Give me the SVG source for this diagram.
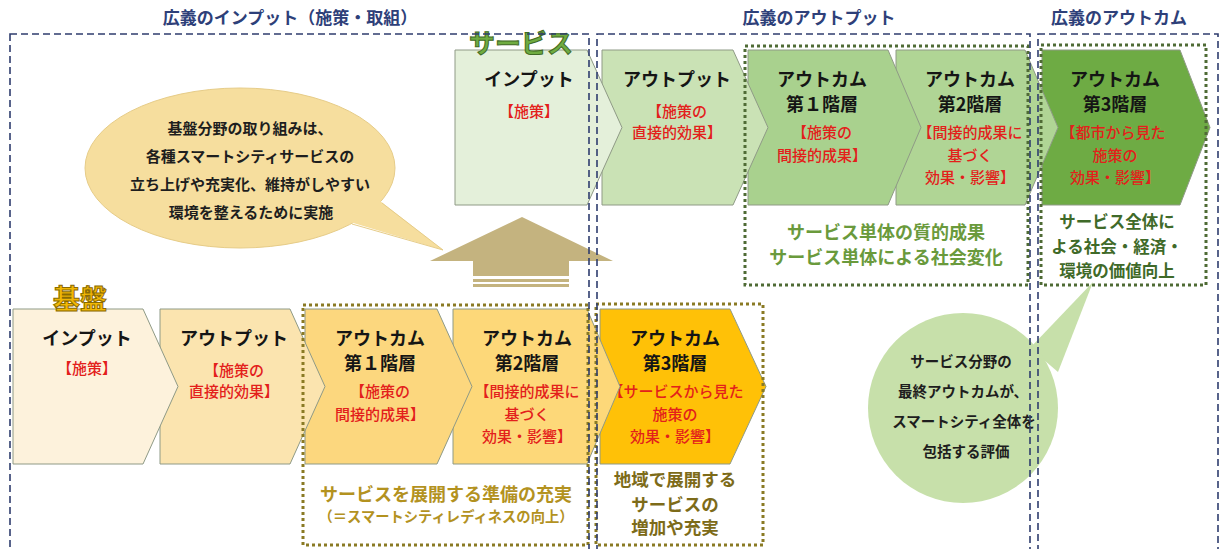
<svg xmlns="http://www.w3.org/2000/svg" width="1221" height="549" viewBox="0 0 1221 549">
<style>
.t{font-family:"Noto Sans CJK JP","Noto Sans",sans-serif;font-weight:700;text-anchor:middle}
.ttl{font-size:18px;fill:#151515}
.red{font-size:15px;fill:#e3201b;font-weight:500}
.hdr{font-size:17px;fill:#2e4079}
.bub{font-size:15px;fill:#1e1e1e}
.chev{stroke:#8f9a86;stroke-width:1}
.navy{fill:none;stroke:#2f3d6e;stroke-width:1.6;stroke-dasharray:7 4}
.dotg{fill:none;stroke:#4f6b35;stroke-width:3;stroke-dasharray:3 3}
.doty{fill:none;stroke:#8a7a24;stroke-width:3;stroke-dasharray:3 3}
</style>
<rect width="1221" height="549" fill="#ffffff"/>

<!-- headers -->
<text class="t hdr" x="290" y="24">広義のインプット（施策・取組）</text>
<text class="t hdr" x="819" y="24">広義のアウトプット</text>
<text class="t hdr" x="1119" y="24">広義のアウトカム</text>

<!-- service chevrons (drawn right to left) -->
<g id="s-oc3"><polygon class="chev" fill="#6eab44" points="1042,50 1180,50 1210,127.5 1180,205 1042,205"/>
<text class="t ttl" x="1115" y="86">アウトカム</text><text class="t ttl" x="1115" y="111">第3階層</text>
<text class="t red" x="1113" y="138">【都市から見た</text><text class="t red" x="1115" y="161">施策の</text><text class="t red" x="1115" y="183">効果・影響】</text></g>
<g id="s-oc2"><polygon class="chev" fill="#b0d595" points="896,50 1025,50 1058,127.5 1025,205 896,205"/>
<text class="t ttl" x="970" y="86">アウトカム</text><text class="t ttl" x="970" y="111">第2階層</text>
<text class="t red" x="970" y="138">【間接的成果に</text><text class="t red" x="970" y="161">基づく</text><text class="t red" x="970" y="183">効果・影響】</text></g>
<g id="s-oc1"><polygon class="chev" fill="#a9d18e" points="748,50 888,50 921,127.5 888,205 748,205"/>
<text class="t ttl" x="822" y="86">アウトカム</text><text class="t ttl" x="822" y="111">第１階層</text>
<text class="t red" x="822" y="138">【施策の</text><text class="t red" x="822" y="161">間接的成果】</text></g>
<g id="s-out"><polygon class="chev" fill="#cae2b5" points="602,50 733,50 768,127.5 733,205 602,205"/>
<text class="t ttl" x="677" y="86">アウトプット</text>
<text class="t red" x="677" y="117">【施策の</text><text class="t red" x="677" y="138">直接的効果】</text></g>
<g id="s-in"><polygon class="chev" fill="#e4f0da" points="455,50 587,50 622,127.5 587,205 455,205"/>
<text class="t ttl" x="529" y="86">インプット</text>
<text class="t red" x="529" y="117">【施策】</text></g>
<text class="t" x="521" y="53" style="font-size:26px;fill:#6fac41;stroke:#3f6a25;stroke-width:1">サービス</text>

<!-- base chevrons -->
<g id="b-oc3"><polygon class="chev" fill="#ffc107" points="600,309 730,309 766,386.5 730,464 600,464"/>
<text class="t ttl" x="675" y="345">アウトカム</text><text class="t ttl" x="675" y="370">第3階層</text>
<text class="t red" x="676" y="397">【サービスから見た</text><text class="t red" x="675" y="420">施策の</text><text class="t red" x="675" y="442">効果・影響】</text></g>
<g id="b-oc2"><polygon class="chev" fill="#fdd879" points="453,309 587,309 620,386.5 587,464 453,464"/>
<text class="t ttl" x="527" y="345">アウトカム</text><text class="t ttl" x="527" y="370">第2階層</text>
<text class="t red" x="527" y="397">【間接的成果に</text><text class="t red" x="527" y="420">基づく</text><text class="t red" x="527" y="442">効果・影響】</text></g>
<g id="b-oc1"><polygon class="chev" fill="#fcd77e" points="305,309 437,309 472,386.5 437,464 305,464"/>
<text class="t ttl" x="380" y="345">アウトカム</text><text class="t ttl" x="380" y="370">第１階層</text>
<text class="t red" x="380" y="397">【施策の</text><text class="t red" x="380" y="420">間接的成果】</text></g>
<g id="b-out"><polygon class="chev" fill="#fbe4af" points="160,309 290,309 325,386.5 290,464 160,464"/>
<text class="t ttl" x="234" y="345">アウトプット</text>
<text class="t red" x="234" y="376">【施策の</text><text class="t red" x="234" y="397">直接的効果】</text></g>
<g id="b-in"><polygon class="chev" fill="#fdf2dc" points="13,309 143,309 178,386.5 143,464 13,464"/>
<text class="t ttl" x="87" y="345">インプット</text>
<text class="t red" x="87" y="374">【施策】</text></g>
<text class="t" x="80" y="309" style="font-size:27px;fill:#f2b705;stroke:#8a6a00;stroke-width:1">基盤</text>

<!-- dotted groupings -->
<g id="s-grp1"><rect class="dotg" x="745" y="46" width="283" height="239"/>
<text class="t" x="886" y="239" style="font-size:18px;fill:#6a9a3c">サービス単体の質的成果</text>
<text class="t" x="886" y="264" style="font-size:18px;fill:#6a9a3c">サービス単体による社会変化</text></g>
<g id="s-grp2"><rect class="dotg" x="1041" y="45" width="165" height="240"/>
<text class="t" x="1117" y="228" style="font-size:16.5px;fill:#3f6a29">サービス全体に</text>
<text class="t" x="1117" y="253" style="font-size:16.5px;fill:#3f6a29">よる社会・経済・</text>
<text class="t" x="1117" y="277" style="font-size:16.5px;fill:#3f6a29">環境の価値向上</text></g>
<g id="b-grp1"><rect class="doty" x="303" y="305" width="285" height="240"/>
<text class="t" x="446" y="501" style="font-size:18px;fill:#b3921f">サービスを展開する準備の充実</text>
<text class="t" x="446" y="522" style="font-size:14.3px;fill:#b3921f">（＝スマートシティレディネスの向上）</text></g>
<g id="b-grp2"><rect class="doty" x="596" y="304" width="167" height="241"/>
<text class="t" x="675" y="486" style="font-size:17.5px;fill:#7d6b19">地域で展開する</text>
<text class="t" x="675" y="511" style="font-size:17.5px;fill:#7d6b19">サービスの</text>
<text class="t" x="675" y="534" style="font-size:17.5px;fill:#7d6b19">増加や充実</text></g>

<!-- speech bubble (base) -->
<g id="bubble-base">
<ellipse cx="240" cy="168" rx="155" ry="80" fill="#f6de9e" stroke="#e6cc88" stroke-width="1"/>
<path d="M350,222 L443,250 L380,201 Z" fill="#f6de9e"/>
<path d="M352,224 L443,250 L382,203" fill="none" stroke="#e6cc88" stroke-width="1"/>
<text class="t bub" x="250" y="134">基盤分野の取り組みは、</text>
<text class="t bub" x="250" y="162">各種スマートシティサービスの</text>
<text class="t bub" x="250" y="190">立ち上げや充実化、維持がしやすい</text>
<text class="t bub" x="251" y="218">環境を整えるために実施</text>
</g>

<!-- circle bubble (service) -->
<g id="bubble-service">
<polygon points="1030,348 1093,282 1058,372" fill="#c7e0aa"/>
<circle cx="963" cy="408" r="95" fill="#c7e0aa"/>
<text class="t bub" x="961" y="367" style="font-size:14.5px">サービス分野の</text>
<text class="t bub" x="963" y="397" style="font-size:14.5px">最終アウトカムが、</text>
<text class="t bub" x="964" y="427" style="font-size:14.5px">スマートシティ全体を</text>
<text class="t bub" x="966" y="457" style="font-size:14.5px">包括する評価</text>
</g>

<!-- connectors -->
<g id="connectors">
<polygon points="430,261 522,217 613,261 569,261 569,276 473,276 473,261" fill="#c4b37f"/>
<rect x="473" y="279" width="96" height="3" fill="#c4b37f"/>
<rect x="473" y="284" width="96" height="3" fill="#c4b37f"/>
</g>

<!-- broad category frames -->
<g id="frames">
<rect class="navy" x="10" y="34" width="579" height="530"/>
<rect class="navy" x="597" y="34" width="433" height="530"/>
<rect class="navy" x="1038" y="34" width="180" height="530"/>
</g>
</svg>
